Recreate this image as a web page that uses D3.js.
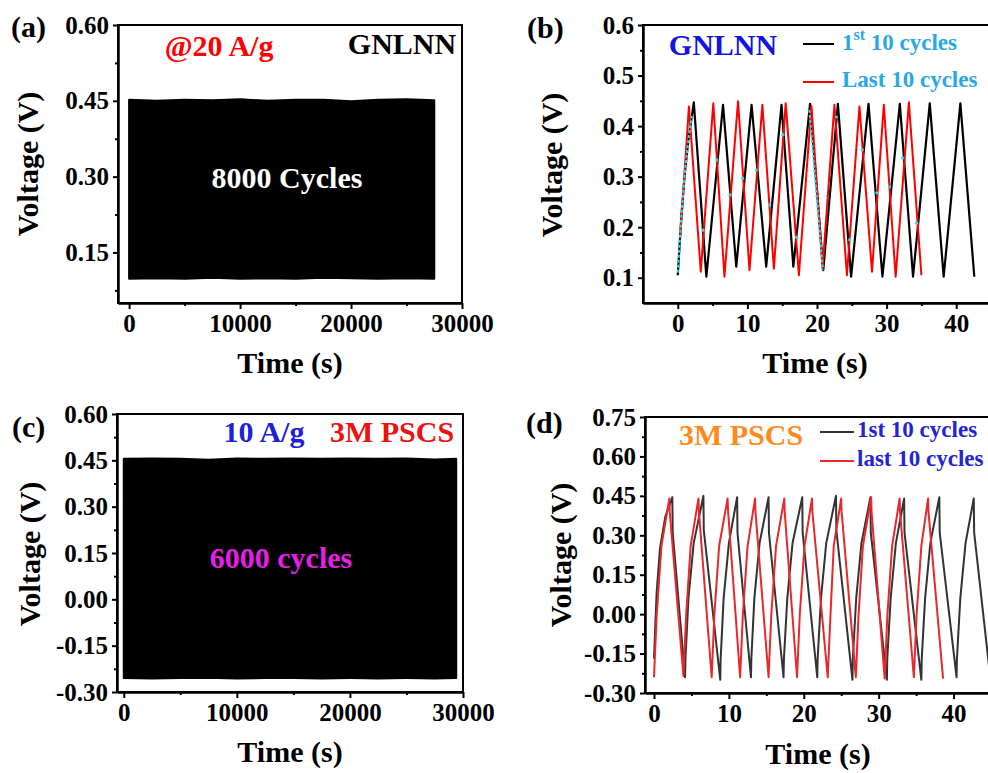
<!DOCTYPE html>
<html>
<head>
<meta charset="utf-8">
<script src="https://cdn.jsdelivr.net/npm/d3@7"></script>
<style>
  html, body { margin: 0; padding: 0; background: #fff; }
  svg text { font-family: "Liberation Serif", "Times New Roman", serif; font-weight: bold; }
</style>
</head>
<body>
<svg id="fig" width="988" height="773"></svg>
<script>
// ---------------- data ----------------
// (a) GNLNN, 8000 cycles at 20 A/g: envelope of the dense GCD trace
const aTime  = [0, 2500, 5000, 7500, 10000, 12500, 15000, 17500, 20000, 22500, 25000, 27500];
const aUpper = [0.452, 0.450, 0.452, 0.451, 0.453, 0.450, 0.452, 0.452, 0.449, 0.452, 0.453, 0.451];
const aLower = [0.098, 0.099, 0.098, 0.100, 0.098, 0.099, 0.098, 0.100, 0.099, 0.098, 0.099, 0.098];

// (c) 3M PSCS, 6000 cycles at 10 A/g
const cTime  = [0, 2500, 5000, 7500, 10000, 12500, 15000, 17500, 20000, 22500, 25000, 27500, 29400];
const cUpper = [0.455, 0.456, 0.455, 0.452, 0.456, 0.455, 0.456, 0.455, 0.456, 0.455, 0.456, 0.453, 0.455];
const cLower = [-0.255, -0.256, -0.255, -0.254, -0.256, -0.255, -0.255, -0.256, -0.255, -0.256, -0.255, -0.256, -0.255];

// (b) GNLNN: first and last 10 cycles, [time s, voltage V]
const bFirst = [[0,0.105],[0.5,0.22],[1.0,0.305],[1.5,0.37],[2.3,0.447],[4.1,0.102],[6.5,0.442],[8.4,0.122],
  [10.6,0.442],[12.7,0.122],[14.9,0.442],[16.6,0.122],[19.0,0.444],[20.9,0.115],[23.0,0.444],[24.9,0.102],
  [27.4,0.444],[29.4,0.102],[31.9,0.444],[33.8,0.102],[36.2,0.445],[38.2,0.102],[40.6,0.445],[42.6,0.102]];
const bLast = [[0.35,0.18],[1.6,0.439],[3.3,0.112],[5.1,0.445],[6.7,0.102],[8.65,0.449],[10.3,0.115],
  [12.15,0.442],[13.8,0.118],[15.5,0.445],[17.4,0.105],[19.2,0.44],[20.8,0.118],[22.5,0.442],[24.3,0.105],
  [26.1,0.439],[27.9,0.112],[29.6,0.442],[31.3,0.102],[33.2,0.447],[35.0,0.105]];
// light-blue trace seen on top of the two curves
const bCyanRise = [[0,0.11],[0.5,0.22],[1.0,0.305],[1.5,0.37],[2.0,0.42]];
const bCyanFall = [[18.9,0.432],[20.85,0.115]];
const bCyanDots = [[3.6,0.194],[5.6,0.333],[7.5,0.264],[9.3,0.297],[11.3,0.313],[13.2,0.244],[15.1,0.383],
  [17.1,0.18],[22.8,0.418],[24.7,0.175],[26.5,0.353],[28.6,0.268],[30.4,0.28],[32.3,0.337],[34.3,0.208]];

// (d) 3M PSCS: first and last 10 cycles, [time s, voltage V]
const dFirst = [[0,-0.17],[0.35,0.08],[0.8,0.25],[1.5,0.37],[2.45,0.445],[2.5,0.31],[4.15,-0.24],
  [4.2,-0.17],[4.6,0.06],[5.3,0.27],[6.6,0.45],[6.65,0.32],[8.85,-0.25],
  [8.9,-0.17],[9.3,0.06],[10.0,0.27],[11.1,0.445],[11.15,0.31],[12.95,-0.24],
  [13.0,-0.17],[13.4,0.06],[14.1,0.27],[15.3,0.445],[15.35,0.31],[17.3,-0.24],
  [17.35,-0.17],[17.8,0.06],[18.5,0.27],[19.8,0.445],[19.85,0.31],[21.8,-0.24],
  [21.85,-0.17],[22.3,0.06],[23.0,0.27],[24.3,0.45],[24.35,0.32],[26.5,-0.25],
  [26.55,-0.17],[27.0,0.06],[27.7,0.27],[28.9,0.445],[28.95,0.31],[31.1,-0.25],
  [31.15,-0.17],[31.6,0.06],[32.3,0.27],[33.4,0.44],[33.45,0.31],[35.7,-0.25],
  [35.75,-0.17],[36.2,0.06],[36.9,0.27],[38.1,0.445],[38.15,0.31],[40.4,-0.24],
  [40.45,-0.17],[40.9,0.06],[41.6,0.27],[42.7,0.44],[42.75,0.31],[44.8,-0.215]];
const dLast = [[0,-0.24],[0.37,0.0],[1.0,0.26],[2.05,0.44],[2.1,0.39],[3.93,-0.235],
  [4.3,0.0],[4.9,0.26],[5.94,0.44],[6.0,0.39],[7.7,-0.24],
  [8.07,0.0],[8.7,0.26],[9.83,0.44],[9.9,0.39],[11.5,-0.24],
  [11.87,0.0],[12.5,0.26],[13.5,0.44],[13.55,0.39],[15.3,-0.24],
  [15.67,0.0],[16.3,0.26],[17.4,0.44],[17.45,0.39],[19.1,-0.24],
  [19.47,0.0],[20.1,0.26],[21.1,0.44],[21.15,0.39],[23.2,-0.24],
  [23.57,0.0],[24.0,0.26],[25.0,0.44],[25.05,0.39],[26.95,-0.24],
  [27.32,0.0],[27.9,0.26],[29.0,0.445],[29.05,0.39],[30.8,-0.245],
  [31.17,0.0],[31.8,0.26],[32.8,0.44],[32.85,0.39],[34.7,-0.24],
  [35.07,0.0],[35.7,0.26],[36.6,0.44],[36.65,0.39],[38.6,-0.245]];

// tick values
const longTimeTicks  = [0, 10000, 20000, 30000];
const longTimeMinor  = [5000, 15000, 25000];
const shortTimeTicks = [0, 10, 20, 30, 40];
const shortTimeMinor = [5, 15, 25, 35];
const aVoltTicks = [0.15, 0.30, 0.45, 0.60];
const aVoltMinor = [0.075, 0.225, 0.375, 0.525];
const bVoltTicks = [0.1, 0.2, 0.3, 0.4, 0.5, 0.6];
const bVoltMinor = [0.15, 0.25, 0.35, 0.45, 0.55];
const cVoltTicks = [-0.30, -0.15, 0.00, 0.15, 0.30, 0.45, 0.60];
const cVoltMinor = [-0.225, -0.075, 0.075, 0.225, 0.375, 0.525];
const dVoltTicks = [-0.30, -0.15, 0.00, 0.15, 0.30, 0.45, 0.60, 0.75];
const dVoltMinor = [-0.225, -0.075, 0.075, 0.225, 0.375, 0.525, 0.675];

// ---------------- drawing ----------------
const svg = d3.select("#fig");
svg.append("rect").attr("width", 988).attr("height", 773).attr("fill", "#fff");

const fix2 = d => d.toFixed(2);
const fix1 = d => d.toFixed(1);
const intFmt = d => String(d);

function panel(p) {
  const x = d3.scaleLinear().domain(p.xDomain).range([p.left, p.right]);
  const y = d3.scaleLinear().domain(p.yDomain).range([p.bottom, p.top]);
  const g = svg.append("g");

  const clipId = "clip-" + p.id;
  svg.append("clipPath").attr("id", clipId).append("rect")
    .attr("x", p.left).attr("y", p.top)
    .attr("width", p.right - p.left).attr("height", p.bottom - p.top);
  const plot = g.append("g").attr("clip-path", `url(#${clipId})`);
  p.draw(plot, x, y);

  // box
  g.append("rect").attr("x", p.left).attr("y", p.top)
    .attr("width", p.right - p.left).attr("height", p.bottom - p.top)
    .attr("fill", "none").attr("stroke", "#000").attr("stroke-width", 2);

  // x axis
  const xa = g.append("g").attr("transform", `translate(0,${p.bottom})`)
    .call(d3.axisBottom(x).tickValues(p.xTicks).tickFormat(p.xFmt)
      .tickSize(6).tickPadding(5).tickSizeOuter(0));
  const xm = g.append("g").attr("transform", `translate(0,${p.bottom})`)
    .call(d3.axisBottom(x).tickValues(p.xMinor).tickFormat("").tickSize(3).tickSizeOuter(0));
  // y axis
  const ya = g.append("g").attr("transform", `translate(${p.left},0)`)
    .call(d3.axisLeft(y).tickValues(p.yTicks).tickFormat(p.yFmt)
      .tickSize(5).tickPadding(4).tickSizeOuter(0));
  const ym = g.append("g").attr("transform", `translate(${p.left},0)`)
    .call(d3.axisLeft(y).tickValues(p.yMinor).tickFormat("").tickSize(3).tickSizeOuter(0));

  [xa, xm, ya, ym].forEach(a => {
    a.select(".domain").attr("stroke", "#000").attr("stroke-width", 2);
    a.selectAll(".tick line").attr("stroke", "#000").attr("stroke-width", 2);
    a.selectAll(".tick text").attr("fill", "#000")
      .style("font-family", '"Liberation Serif", "Times New Roman", serif')
      .style("font-weight", "bold").style("font-size", "25px");
  });

  // titles
  g.append("text").attr("x", p.xTitle[0]).attr("y", p.xTitle[1])
    .attr("text-anchor", "middle").style("font-size", "30px").text("Time (s)");
  g.append("text").attr("transform", `translate(${p.yTitle[0]},${p.yTitle[1]}) rotate(-90)`)
    .attr("text-anchor", "middle").style("font-size", "30px").text("Voltage (V)");
  g.append("text").attr("x", p.tag[0]).attr("y", p.tag[1])
    .style("font-size", "30px").text(p.tagText);
  return g;
}

function note(g, text, xPos, yPos, color, size, anchor) {
  return g.append("text").attr("x", xPos).attr("y", yPos)
    .attr("text-anchor", anchor || "middle").attr("fill", color)
    .style("font-size", (size || 30) + "px").text(text);
}

function band(plot, x, y, t, up, lo) {
  const rows = t.map((d, i) => ({ t: d, hi: up[i], lo: lo[i] }));
  plot.append("path").datum(rows)
    .attr("d", d3.area().x(d => x(d.t)).y0(d => y(d.lo)).y1(d => y(d.hi)))
    .attr("fill", "#000").attr("stroke", "#000").attr("stroke-width", 2)
    .attr("stroke-linejoin", "round");
}

const line = (x, y) => d3.line().x(d => x(d[0])).y(d => y(d[1]));

// (a)
const ga = panel({
  id: "a", left: 118, right: 462, top: 25, bottom: 303,
  xDomain: [-1000, 30000], yDomain: [0.05, 0.60],
  xTicks: longTimeTicks, xMinor: longTimeMinor, xFmt: intFmt,
  yTicks: aVoltTicks, yMinor: aVoltMinor, yFmt: fix2,
  xTitle: [290, 373], yTitle: [38, 164], tag: [11, 37], tagText: "(a)",
  draw: (plot, x, y) => band(plot, x, y, aTime, aUpper, aLower)
});
note(ga, "@20 A/g", 219, 56, "#ff0000");
note(ga, "GNLNN", 402, 54, "#000");
note(ga, "8000 Cycles", 287, 188, "#fff");

// (b)
const gb = panel({
  id: "b", left: 643, right: 991, top: 25, bottom: 303,
  xDomain: [-5, 45], yDomain: [0.05, 0.6],
  xTicks: shortTimeTicks, xMinor: shortTimeMinor, xFmt: intFmt,
  yTicks: bVoltTicks, yMinor: bVoltMinor, yFmt: fix1,
  xTitle: [815, 373], yTitle: [562, 165], tag: [527, 38], tagText: "(b)",
  draw: (plot, x, y) => {
    const ln = line(x, y);
    plot.append("path").datum(bFirst).attr("d", ln).attr("fill", "none")
      .attr("stroke", "#000").attr("stroke-width", 2.2).attr("stroke-linejoin", "round");
    plot.append("path").datum(bLast).attr("d", ln).attr("fill", "none")
      .attr("stroke", "#ff0000").attr("stroke-width", 2).attr("stroke-linejoin", "round");
    [bCyanRise, bCyanFall].forEach(seg => plot.append("path").datum(seg).attr("d", ln)
      .attr("fill", "none").attr("stroke", "#1fe0ea").attr("stroke-width", 2)
      .attr("stroke-dasharray", "3,2"));
    plot.selectAll("circle.cy").data(bCyanDots).join("circle").attr("class", "cy")
      .attr("cx", d => x(d[0])).attr("cy", d => y(d[1])).attr("r", 1.6).attr("fill", "#1fe0ea");
  }
});
note(gb, "GNLNN", 723, 55, "#1414e0");
gb.append("line").attr("x1", 803).attr("x2", 834).attr("y1", 44).attr("y2", 44)
  .attr("stroke", "#000").attr("stroke-width", 2);
gb.append("line").attr("x1", 803).attr("x2", 834).attr("y1", 82).attr("y2", 82)
  .attr("stroke", "#ff0000").attr("stroke-width", 2);
const lb1 = gb.append("text").attr("x", 842).attr("y", 50).attr("fill", "#2aa8e6").style("font-size", "23px");
lb1.append("tspan").text("1");
lb1.append("tspan").attr("dy", -10).style("font-size", "16px").text("st");
lb1.append("tspan").attr("dy", 10).text(" 10 cycles");
note(gb, "Last 10 cycles", 842, 87, "#2aa8e6", 23, "start");

// (c)
const gc = panel({
  id: "c", left: 117, right: 463, top: 414, bottom: 692,
  xDomain: [-600, 30000], yDomain: [-0.30, 0.60],
  xTicks: longTimeTicks, xMinor: longTimeMinor, xFmt: intFmt,
  yTicks: cVoltTicks, yMinor: cVoltMinor, yFmt: fix2,
  xTitle: [290, 762], yTitle: [40, 554], tag: [12, 437], tagText: "(c)",
  draw: (plot, x, y) => band(plot, x, y, cTime, cUpper, cLower)
});
note(gc, "10 A/g", 264, 442, "#2020d8");
note(gc, "3M PSCS", 392, 442, "#ee1111");
note(gc, "6000 cycles", 281, 568, "#e61ee6");

// (d)
const gd = panel({
  id: "d", left: 645, right: 991, top: 417, bottom: 693,
  xDomain: [-1.2, 45], yDomain: [-0.30, 0.75],
  xTicks: shortTimeTicks, xMinor: shortTimeMinor, xFmt: intFmt,
  yTicks: dVoltTicks, yMinor: dVoltMinor, yFmt: fix2,
  xTitle: [818, 764], yTitle: [571, 555], tag: [526, 433], tagText: "(d)",
  draw: (plot, x, y) => {
    const ln = line(x, y);
    plot.append("path").datum(dFirst).attr("d", ln).attr("fill", "none")
      .attr("stroke", "#333").attr("stroke-width", 2).attr("stroke-linejoin", "round");
    plot.append("path").datum(dLast).attr("d", ln).attr("fill", "none")
      .attr("stroke", "#e8282c").attr("stroke-width", 2).attr("stroke-linejoin", "round");
  }
});
note(gd, "3M PSCS", 741, 445, "#ff8a1c");
gd.append("line").attr("x1", 820).attr("x2", 854).attr("y1", 432).attr("y2", 432)
  .attr("stroke", "#333").attr("stroke-width", 2);
gd.append("line").attr("x1", 820).attr("x2", 854).attr("y1", 461).attr("y2", 461)
  .attr("stroke", "#e8282c").attr("stroke-width", 2);
note(gd, "1st 10 cycles", 857, 437, "#2323d8", 23, "start");
note(gd, "last 10 cycles", 857, 466, "#2323d8", 23, "start");
</script>
</body>
</html>
